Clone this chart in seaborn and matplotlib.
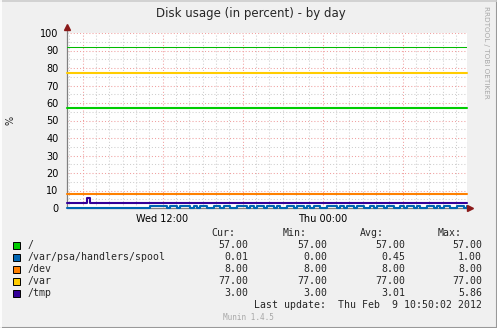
import numpy as np
import pandas as pd
import seaborn as sns
import matplotlib
matplotlib.use("Agg")
import matplotlib.pyplot as plt
from matplotlib.patches import Rectangle
from matplotlib.lines import Line2D

# ---------------- data ----------------
title = "Disk usage (in percent) - by day"
series_names = ["/", "/var/psa/handlers/spool", "/dev", "/var", "/tmp"]
series_colors = ["#00CC00", "#0066B3", "#FF8000", "#FFCC00", "#330099"]
cur_vals = ["57.00", "0.01", "8.00", "77.00", "3.00"]
min_vals = ["57.00", "0.00", "8.00", "77.00", "3.00"]
avg_vals = ["57.00", "0.45", "8.00", "77.00", "3.01"]
max_vals = ["57.00", "1.00", "8.00", "77.00", "5.86"]
last_update = "Last update:  Thu Feb  9 10:50:02 2012"
y_ticks = [0, 10, 20, 30, 40, 50, 60, 70, 80, 90, 100]
x_major_ticks = ["2012-02-08 06:00", "2012-02-08 12:00", "2012-02-08 18:00",
                 "2012-02-09 00:00", "2012-02-09 06:00"]
x_tick_labels = ["", "Wed 12:00", "", "Thu 00:00", ""]
t_start = "2012-02-08 04:50"
t_end = "2012-02-09 10:50"
warning_level = 92

root_vals = [57.0] * 121
dev_vals = [8.0] * 121
var_vals = [77.0] * 121
tmp_vals = [3.0] * 6 + [5.86] + [3.0] * 114
spool_vals = ([0] * 25 +
              [1, 1, 1, 1, 1, 0, 1, 1, 0, 1, 1, 1, 0, 1, 0, 1, 1, 0, 0, 1,
               1, 0, 1, 1, 0, 0, 1, 1, 1, 0, 1, 0, 1, 1, 0, 1, 1, 0, 1, 0,
               0, 1, 1, 0, 1, 1, 0, 1, 0, 1, 1, 0, 0, 1, 1, 1, 0, 1, 0, 1,
               1, 0, 1, 1, 0, 0, 1, 0, 1, 1, 0, 1, 1, 0, 0, 1, 0, 1, 1, 0,
               1, 0, 0, 1, 1, 0, 1, 0, 1, 1, 0, 0, 1, 1, 0, 1])

# ---------------- build frame ----------------
times = pd.date_range(t_start, t_end, freq="15min")
df = pd.concat([
    pd.DataFrame({"time": times, "value": v, "series": n})
    for n, v in zip(series_names,
                    [root_vals, spool_vals, dev_vals, var_vals, tmp_vals])
], ignore_index=True)

W, H = 497, 328
sns.set_theme(style="white")
plt.rcParams["font.family"] = ["DejaVu Sans"]
fig = plt.figure(figsize=(W / 100, H / 100), dpi=100, facecolor="#F0F0F0")

def fx(px):
    return px / W

def fy(py):
    return 1 - py / H

ax_l, ax_r, ax_t, ax_b = 67, 467, 33, 208
ax = fig.add_axes([fx(ax_l), fy(ax_b), (ax_r - ax_l) / W, (ax_b - ax_t) / H])
ax.set_facecolor("white")

sns.lineplot(data=df, x="time", y="value", hue="series",
             hue_order=series_names, palette=series_colors,
             linewidth=1.5, drawstyle="steps-post", legend=False, ax=ax,
             estimator=None, zorder=4)
for ln in ax.lines:
    ln.set_clip_on(False)
ax.axhline(warning_level, color="#00BB00", linewidth=0.75, zorder=3)

ax.set_xlim(pd.Timestamp(t_start), pd.Timestamp(t_end))
ax.set_ylim(0, 100)

# grid
ax.set_yticks(y_ticks)
ax.set_yticklabels([str(v) for v in y_ticks])
ax.set_yticks([v + 5 for v in y_ticks[:-1]], minor=True)
ax.set_xticks(pd.to_datetime(x_major_ticks))
ax.set_xticklabels(x_tick_labels)
ax.set_xticks(pd.date_range("2012-02-08 05:00", "2012-02-09 10:00", freq="1h"), minor=True)
ax.grid(which="minor", color="#CFCFCF", linestyle=(0, (1, 2)), linewidth=0.75)
ax.grid(which="major", color="#F0A0A0", linestyle=(0, (1, 2)), linewidth=0.75)
ax.set_axisbelow(True)

ax.tick_params(axis="y", which="major", length=3, color="#E0A0A0", pad=3,
               labelsize=7, labelcolor="black")
ax.tick_params(axis="x", which="major", length=0, pad=4, labelsize=7,
               labelcolor="black")
ax.tick_params(which="minor", length=0)
ax.set_xlabel("")
ax.set_ylabel("")
for s in ax.spines.values():
    s.set_visible(False)

# axes with arrows
ax.add_line(Line2D([0, 0], [0, 1.03], transform=ax.transAxes, color="#808080",
                   linewidth=0.9, clip_on=False, zorder=2.5))
ax.add_line(Line2D([0, 1.01], [0, 0], transform=ax.transAxes, color="#808080",
                   linewidth=0.9, clip_on=False, zorder=2.5))
ax.plot([0], [1.035], marker="^", color="#8B1A1A", markersize=4,
        transform=ax.transAxes, clip_on=False, zorder=6)
ax.plot([1.0075], [0], marker=">", color="#8B1A1A", markersize=4,
        transform=ax.transAxes, clip_on=False, zorder=6)

# title & labels
fig.text(fx(251), fy(14), title, ha="center", va="center", fontsize=8.5)
fig.text(fx(10), fy(120), "%", ha="center", va="center", rotation=90, fontsize=7)
fig.text(fx(486), fy(6), "RRDTOOL / TOBI OETIKER", ha="center", va="top",
         rotation=-90, fontsize=5.2, color="#A8A8A8")

# legend table
mono = "DejaVu Sans Mono"
fs = 7.1
rows_y = [245, 257, 269, 281, 293]
fig.text(fx(235), fy(233), "Cur:", ha="right", va="center", family=mono, fontsize=fs)
fig.text(fx(307), fy(233), "Min:", ha="right", va="center", family=mono, fontsize=fs)
fig.text(fx(384), fy(233), "Avg:", ha="right", va="center", family=mono, fontsize=fs)
fig.text(fx(462), fy(233), "Max:", ha="right", va="center", family=mono, fontsize=fs)
for i, name in enumerate(series_names):
    y = rows_y[i]
    fig.patches.append(Rectangle((fx(13), fy(y + 4)), 7 / W, 7 / H,
                                 transform=fig.transFigure, facecolor=series_colors[i],
                                 edgecolor="black", linewidth=0.7))
    fig.text(fx(27), fy(y), name, ha="left", va="center", family=mono, fontsize=fs)
    fig.text(fx(248), fy(y), cur_vals[i], ha="right", va="center", family=mono, fontsize=fs)
    fig.text(fx(327), fy(y), min_vals[i], ha="right", va="center", family=mono, fontsize=fs)
    fig.text(fx(405), fy(y), avg_vals[i], ha="right", va="center", family=mono, fontsize=fs)
    fig.text(fx(482), fy(y), max_vals[i], ha="right", va="center", family=mono, fontsize=fs)
fig.text(fx(482), fy(305), last_update, ha="right", va="center", family=mono, fontsize=fs)
fig.text(fx(248), fy(317), "Munin 1.4.5", ha="center", va="center", family=mono,
         fontsize=5.5, color="#A8A8A8")

# 3D-ish frame
fig.add_artist(Line2D([0, 1], [0.5 / H, 0.5 / H], transform=fig.transFigure,
                      color="#999999", linewidth=1.5))
fig.add_artist(Line2D([1 - 0.5 / W, 1 - 0.5 / W], [0, 1], transform=fig.transFigure,
                      color="#999999", linewidth=1.5))
fig.add_artist(Line2D([0, 1], [1 - 0.5 / H, 1 - 0.5 / H], transform=fig.transFigure,
                      color="#CCCCCC", linewidth=1.2))
fig.add_artist(Line2D([0.5 / W, 0.5 / W], [0, 1], transform=fig.transFigure,
                      color="#FFFFFF", linewidth=1.2))

fig.savefig("out.png", dpi=100, facecolor=fig.get_facecolor())
